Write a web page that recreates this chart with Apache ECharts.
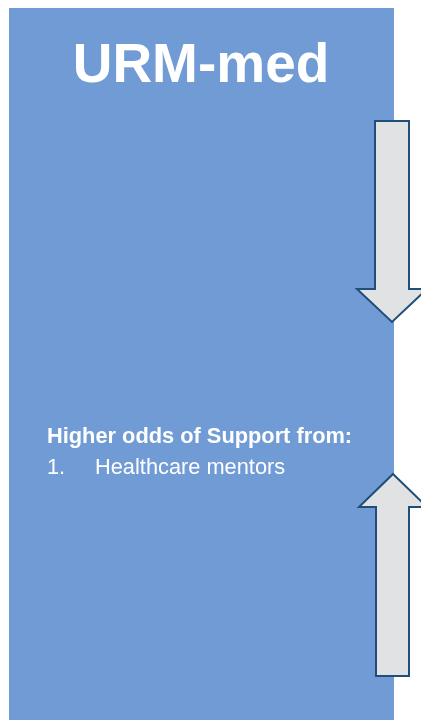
<!DOCTYPE html>
<html>
<head>
<meta charset="utf-8">
<script src="https://cdn.jsdelivr.net/npm/echarts@6/dist/echarts.min.js"></script>
<style>
  html, body { margin: 0; padding: 0; background: #fff; }
  #main { width: 421px; height: 720px; }
</style>
</head>
<body>
<div id="main"></div>
<script>
// text content of the panel
var panelTitle = 'URM-med'
var listHeading = 'Higher odds of Support from:'
var listNumbers = ['1.']
var listItems = ['Healthcare mentors']

var chart = echarts.init(document.getElementById('main'))

var font = '"Liberation Sans", Arial, sans-serif'
var arrowFill = '#E1E2E4'
var arrowStroke = '#1F4E79'

var elements = [
  // blue panel
  {
    type: 'rect',
    shape: { x: 9, y: 8, width: 385, height: 712 },
    style: { fill: '#709BD4' }
  },
  {
    type: 'text',
    x: 201, y: 67,
    style: {
      text: panelTitle, fill: '#fff', font: 'bold 55px ' + font,
      textAlign: 'center', textVerticalAlign: 'middle'
    }
  },
  {
    type: 'text',
    x: 47, y: 437,
    style: {
      text: listHeading, fill: '#fff', font: 'bold 21.8px ' + font,
      textAlign: 'left', textVerticalAlign: 'middle'
    }
  },
  // down arrow
  {
    type: 'polygon',
    shape: { points: [[375, 121], [409, 121], [409, 289], [427, 289], [392, 322], [357, 289], [375, 289]] },
    style: { fill: arrowFill, stroke: arrowStroke, lineWidth: 2 }
  },
  // up arrow
  {
    type: 'polygon',
    shape: { points: [[393, 474], [427, 507], [409, 507], [409, 676], [376, 676], [376, 507], [359, 507]] },
    style: { fill: arrowFill, stroke: arrowStroke, lineWidth: 2 }
  }
]

listItems.forEach(function (item, i) {
  elements.push({
    type: 'text',
    x: 47, y: 468 + i * 31,
    style: {
      text: listNumbers[i], fill: '#fff', font: '21.8px ' + font,
      textAlign: 'left', textVerticalAlign: 'middle'
    }
  })
  elements.push({
    type: 'text',
    x: 95, y: 468 + i * 31,
    style: {
      text: item, fill: '#fff', font: '21.8px ' + font,
      textAlign: 'left', textVerticalAlign: 'middle'
    }
  })
})

chart.setOption({
  backgroundColor: '#fff',
  animation: false,
  graphic: { elements: elements }
})
</script>
</body>
</html>
